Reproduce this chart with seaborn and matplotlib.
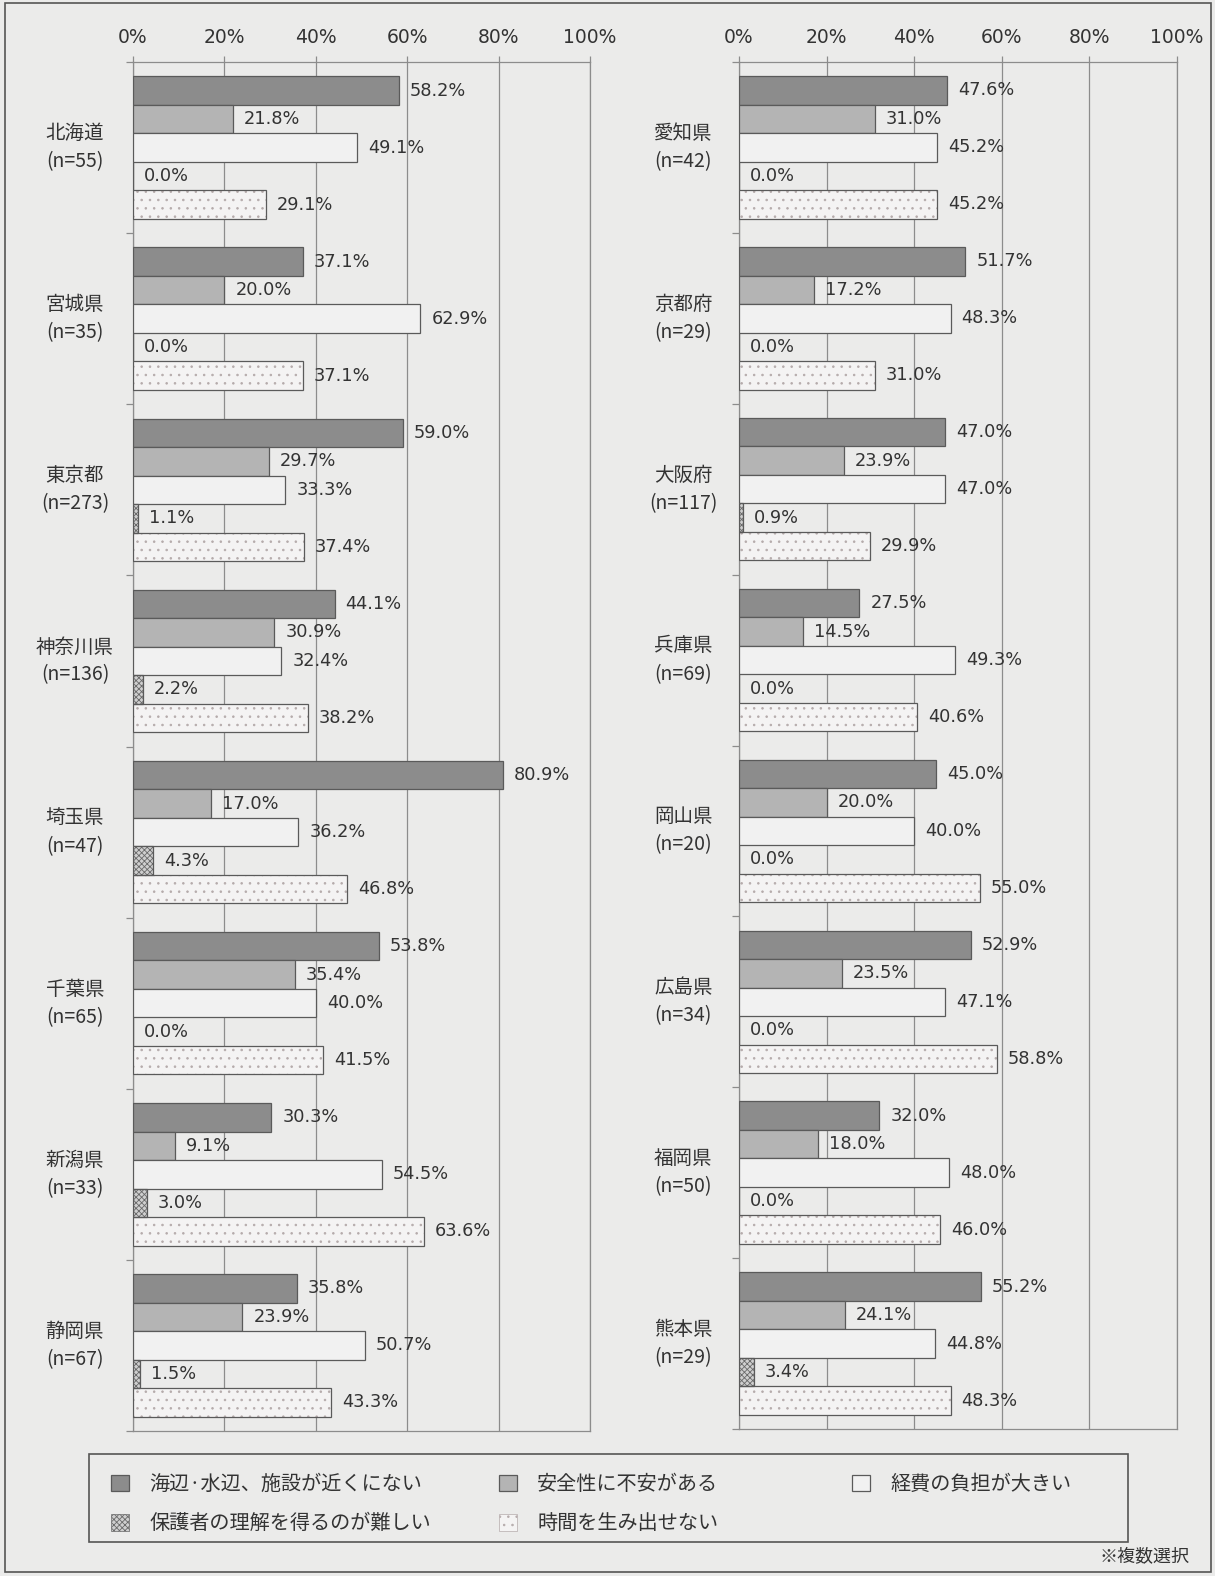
import pandas as pd
import numpy as np
import matplotlib
matplotlib.use('Agg')
import matplotlib.pyplot as plt
import seaborn as sns
from matplotlib.patches import Rectangle, Patch

sns.set_theme(style='white')
plt.rcParams['font.family'] = ['Noto Sans CJK JP', 'DejaVu Sans']
plt.rcParams['hatch.linewidth'] = 0.6

# categories (reasons), left column and right column prefectures
reasons = ['海辺·水辺、施設が近くにない', '安全性に不安がある', '経費の負担が大きい',
           '保護者の理解を得るのが難しい', '時間を生み出せない']

left_prefs = ['北海道', '宮城県', '東京都', '神奈川県', '埼玉県', '千葉県', '新潟県', '静岡県']
left_n = [55, 35, 273, 136, 47, 65, 33, 67]
left_vals = [
    [58.2, 21.8, 49.1, 0.0, 29.1],
    [37.1, 20.0, 62.9, 0.0, 37.1],
    [59.0, 29.7, 33.3, 1.1, 37.4],
    [44.1, 30.9, 32.4, 2.2, 38.2],
    [80.9, 17.0, 36.2, 4.3, 46.8],
    [53.8, 35.4, 40.0, 0.0, 41.5],
    [30.3, 9.1, 54.5, 3.0, 63.6],
    [35.8, 23.9, 50.7, 1.5, 43.3],
]

right_prefs = ['愛知県', '京都府', '大阪府', '兵庫県', '岡山県', '広島県', '福岡県', '熊本県']
right_n = [42, 29, 117, 69, 20, 34, 50, 29]
right_vals = [
    [47.6, 31.0, 45.2, 0.0, 45.2],
    [51.7, 17.2, 48.3, 0.0, 31.0],
    [47.0, 23.9, 47.0, 0.9, 29.9],
    [27.5, 14.5, 49.3, 0.0, 40.6],
    [45.0, 20.0, 40.0, 0.0, 55.0],
    [52.9, 23.5, 47.1, 0.0, 58.8],
    [32.0, 18.0, 48.0, 0.0, 46.0],
    [55.2, 24.1, 44.8, 3.4, 48.3],
]

BG = '#ebebea'
fills = ['#8c8c8c', '#b4b4b4', '#f1f1f1', '#cfcfcf', '#f4f3f3']
hatches = [None, None, None, 'xxxxxx', '..']
hatch_cols = [None, None, None, '#6a6a6a', '#b5abab']
EDGE = '#5a5a5a'
GRID = '#8c8c8c'
TXT = '#333333'

W, H = 1215, 1576
fig = plt.figure(figsize=(W / 100, H / 100), dpi=100, facecolor=BG)


def frac_box(x0, y0, x1, y1):
    return [x0 / W, 1 - y1 / H, (x1 - x0) / W, (y1 - y0) / H]


def draw_panel(ax, prefs, ns, vals):
    rows = []
    for p, v in zip(prefs, vals):
        for r, x in zip(reasons, v):
            rows.append({'pref': p, 'reason': r, 'value': x})
    df = pd.DataFrame(rows)
    sns.barplot(data=df, y='pref', x='value', hue='reason', hue_order=reasons,
                order=prefs, orient='h', width=5 / 6, errorbar=None,
                palette=fills, edgecolor=EDGE, linewidth=0.9,
                legend=False, ax=ax, zorder=3)
    for i, cont in enumerate(ax.containers):
        for bar in cont:
            if hatches[i]:
                bar.set_hatch(hatches[i])
                bar.set_edgecolor(hatch_cols[i])
                bar.set_linewidth(0)
                # outline drawn separately so hatch keeps its own colour
                ax.add_patch(Rectangle(bar.get_xy(), bar.get_width(), bar.get_height(),
                                       fill=False, edgecolor=EDGE, linewidth=0.9, zorder=4))
        ax.bar_label(cont, labels=[f'{b.get_width():.1f}%' for b in cont],
                     padding=8, fontsize=12.8, color=TXT, family=['DejaVu Sans'])
    ax.set_facecolor(BG)
    ax.set_xlim(0, 100)
    ax.set_ylim(len(prefs) - 0.5, -0.5)
    ax.set_xticks(range(0, 101, 20))
    ax.set_xticklabels([f'{t}%' for t in range(0, 101, 20)], fontsize=13.5, color=TXT,
                       family=['DejaVu Sans'])
    ax.xaxis.tick_top()
    ax.tick_params(axis='x', which='both', length=4, width=0.9, color=GRID, pad=7,
                   top=True, bottom=False)
    ax.set_yticks(np.arange(-0.5, len(prefs) + 0.5, 1))
    ax.set_yticklabels([])
    ax.tick_params(axis='y', length=5, width=0.9, color=GRID, left=True)
    ax.xaxis.grid(True, color=GRID, linewidth=0.9, zorder=0)
    ax.yaxis.grid(False)
    ax.set_axisbelow(True)
    for s in ax.spines.values():
        s.set_visible(True)
        s.set_color(GRID)
        s.set_linewidth(0.9)
    ax.set_xlabel('')
    ax.set_ylabel('')
    for k, (p, n) in enumerate(zip(prefs, ns)):
        ax.text(-0.127, k, f'{p}\n(n={n})', transform=ax.get_yaxis_transform(),
                ha='center', va='center', fontsize=14, color=TXT, linespacing=1.45)


ax_l = fig.add_axes(frac_box(133, 62, 590, 1431))
ax_r = fig.add_axes(frac_box(739, 62, 1177, 1429))
draw_panel(ax_l, left_prefs, left_n, left_vals)
draw_panel(ax_r, right_prefs, right_n, right_vals)

# outer frame of the figure
fig.patches.append(Rectangle((5 / W, 1 - 1572 / H), (1211 - 5) / W, (1572 - 3) / H,
                             transform=fig.transFigure, fill=False,
                             edgecolor='#555555', linewidth=1.2))

# legend box
fig.patches.append(Rectangle((89 / W, 1 - 1542 / H), (1128 - 89) / W, (1542 - 1454) / H,
                             transform=fig.transFigure, fill=False,
                             edgecolor='#555555', linewidth=1.2))

handles = []
for i, r in enumerate(reasons):
    handles.append(Patch(facecolor=fills[i], edgecolor=hatch_cols[i] if hatches[i] else EDGE,
                         hatch=hatches[i], linewidth=0.9 if not hatches[i] else 0.5, label=r))

legend_cols = [([0, 3], 111), ([1, 4], 499), ([2], 852)]
for idx, x in legend_cols:
    leg = fig.legend([handles[i] for i in idx], [reasons[i] for i in idx],
                     loc='upper left', bbox_to_anchor=(x / W, 1 - 1474 / H),
                     frameon=False, borderpad=0, borderaxespad=0,
                     handlelength=0.9, handleheight=0.9, handletextpad=1.0,
                     fontsize=14.5, labelspacing=0.9)
    for t in leg.get_texts():
        t.set_color(TXT)

fig.text(1190 / W, 1 - 1557 / H, '※複数選択', ha='right', va='center',
         fontsize=13, color=TXT)

fig.savefig('out.png', dpi=100, facecolor=BG)
